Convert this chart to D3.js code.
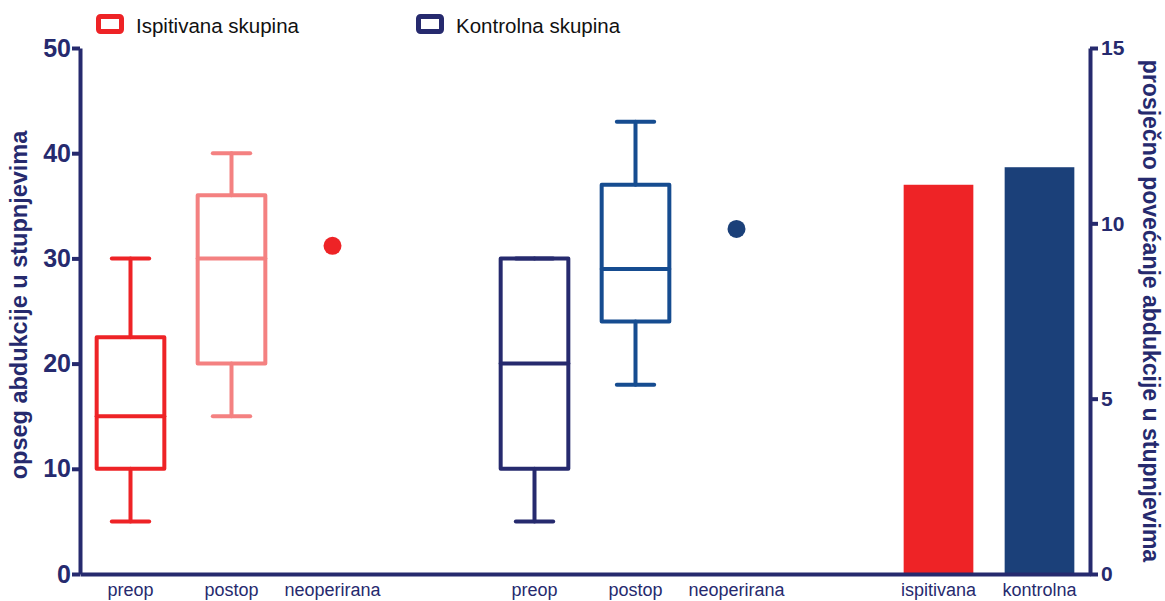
<!DOCTYPE html>
<html>
<head>
<meta charset="utf-8">
<script src="https://cdn.jsdelivr.net/npm/d3@7"></script>
<style>
  html, body { margin: 0; padding: 0; background: #fff; }
  svg { display: block; font-family: "Liberation Sans", Arial, sans-serif; }
</style>
</head>
<body>
<svg id="chart" width="1165" height="601"></svg>
<script>
// Slot layout along the x axis (empty strings are spacer slots)
const slotLabels = ["preop", "postop", "neoperirana", "", "preop", "postop", "neoperirana", "", "ispitivana", "kontrolna"];

// Box plots: abduction range in degrees (left axis)
const boxSlots  = [0, 1, 4, 5];
const boxMin    = [5, 15, 5, 18];
const boxQ1     = [10, 20, 10, 24];
const boxMedian = [15, 30, 20, 29];
const boxQ3     = [22.5, 36, 30, 37];
const boxMax    = [30, 40, 30, 43];

// Single values for the non-operated shoulder (left axis)
const pointSlots  = [2, 6];
const pointValues = [31.2, 32.8];

// Mean increase of abduction (right axis)
const barSlots  = [8, 9];
const barValues = [11.1, 11.6];

// Axis ticks
const leftTicks  = [0, 10, 20, 30, 40, 50];
const rightTicks = [0, 5, 10, 15];

// Legend
const legendLabels = ["Ispitivana skupina", "Kontrolna skupina"];

// Styling
const axisColor = "#262a6e";
const boxColors = ["#ee2326", "#f48181", "#262a6e", "#164c90"];
const pointColors = ["#ee2326", "#1b4079"];
const barColors = ["#ee2326", "#1b4079"];
const legendColors = ["#ee2326", "#262a6e"];

const svg = d3.select("#chart");
const plotLeft = 80, plotRight = 1090, plotTop = 48, plotBottom = 574;

const x = d3.scaleBand().domain(d3.range(slotLabels.length)).range([plotLeft, plotRight]).padding(0);
const yL = d3.scaleLinear().domain([0, 50]).range([plotBottom, plotTop]);
const yR = d3.scaleLinear().domain([0, 15]).range([plotBottom, plotTop]);
const cx = i => x(i) + x.bandwidth() / 2;
const boxW = x.bandwidth() * 0.67;
const capW = x.bandwidth() * 0.37;
const barW = x.bandwidth() * 0.69;

// Bars
svg.append("g").selectAll("rect").data(barValues).join("rect")
  .attr("x", (d, i) => cx(barSlots[i]) - barW / 2)
  .attr("y", d => yR(d))
  .attr("width", barW)
  .attr("height", d => yR(0) - yR(d))
  .attr("fill", (d, i) => barColors[i]);

// Box plots
const boxes = svg.append("g").selectAll("g").data(boxSlots).join("g")
  .attr("stroke", (d, i) => boxColors[i])
  .attr("stroke-width", 4)
  .attr("fill", "none")
  .attr("stroke-linecap", "round")
  .attr("stroke-linejoin", "round");

boxes.each(function(slot, i) {
  const g = d3.select(this);
  const c = cx(slot);
  // whiskers
  g.append("line").attr("x1", c).attr("x2", c).attr("y1", yL(boxMin[i])).attr("y2", yL(boxQ1[i]));
  g.append("line").attr("x1", c).attr("x2", c).attr("y1", yL(boxQ3[i])).attr("y2", yL(boxMax[i]));
  g.append("line").attr("x1", c - capW / 2).attr("x2", c + capW / 2).attr("y1", yL(boxMin[i])).attr("y2", yL(boxMin[i]));
  g.append("line").attr("x1", c - capW / 2).attr("x2", c + capW / 2).attr("y1", yL(boxMax[i])).attr("y2", yL(boxMax[i]));
  // box
  g.append("rect").attr("x", c - boxW / 2).attr("y", yL(boxQ3[i]))
    .attr("width", boxW).attr("height", yL(boxQ1[i]) - yL(boxQ3[i]));
  // median
  g.append("line").attr("x1", c - boxW / 2).attr("x2", c + boxW / 2)
    .attr("y1", yL(boxMedian[i])).attr("y2", yL(boxMedian[i]));
});

// Points
svg.append("g").selectAll("circle").data(pointValues).join("circle")
  .attr("cx", (d, i) => cx(pointSlots[i]))
  .attr("cy", d => yL(d))
  .attr("r", 9)
  .attr("fill", (d, i) => pointColors[i]);

// Axes
function styleAxis(g, fontSize, weight) {
  g.attr("font-size", fontSize);
  g.select(".domain").attr("stroke", axisColor).attr("stroke-width", 4);
  g.selectAll(".tick line").attr("stroke", axisColor).attr("stroke-width", 4);
  g.selectAll(".tick text").attr("fill", axisColor)
    .style("font-size", fontSize + "px").style("font-weight", weight)
    .style("font-family", "'Liberation Sans', Arial, sans-serif");
}

const gBottom = svg.append("g").attr("transform", `translate(0,${plotBottom})`)
  .call(d3.axisBottom(x).tickFormat(i => slotLabels[i]).tickSize(0).tickSizeOuter(0).tickPadding(9));
styleAxis(gBottom, 18, "normal");
gBottom.selectAll(".tick text").attr("dy", "0.71em");

const gLeft = svg.append("g").attr("transform", `translate(${plotLeft},0)`)
  .call(d3.axisLeft(yL).tickValues(leftTicks).tickSize(8).tickSizeOuter(0).tickPadding(1));
styleAxis(gLeft, 25, "bold");

const gRight = svg.append("g").attr("transform", `translate(${plotRight},0)`)
  .call(d3.axisRight(yR).tickValues(rightTicks).tickSize(8).tickSizeOuter(0).tickPadding(3));
styleAxis(gRight, 21, "bold");

// Axis titles
svg.append("text")
  .attr("transform", `translate(27,${(plotTop + plotBottom) / 2 - 6}) rotate(-90)`)
  .attr("text-anchor", "middle")
  .attr("fill", axisColor)
  .style("font-size", "23.5px").style("font-weight", "bold")
  .text("opseg abdukcije u stupnjevima");

svg.append("text")
  .attr("transform", `translate(1143,${(plotTop + plotBottom) / 2}) rotate(90)`)
  .attr("text-anchor", "middle")
  .attr("fill", axisColor)
  .style("font-size", "23px").style("font-weight", "bold")
  .text("prosječno povećanje abdukcije u stupnjevima");

// Legend
const legendX = [96, 416];
const legend = svg.append("g").selectAll("g").data(legendLabels).join("g")
  .attr("transform", (d, i) => `translate(${legendX[i]},14)`);
legend.append("rect")
  .attr("x", 2.5).attr("y", 2.5).attr("width", 23).attr("height", 15).attr("rx", 2)
  .attr("fill", "none").attr("stroke-width", 5)
  .attr("stroke", (d, i) => legendColors[i]);
legend.append("text")
  .attr("x", 40).attr("y", 19)
  .attr("fill", "#111")
  .style("font-size", "20.5px")
  .text(d => d);
</script>
</body>
</html>
